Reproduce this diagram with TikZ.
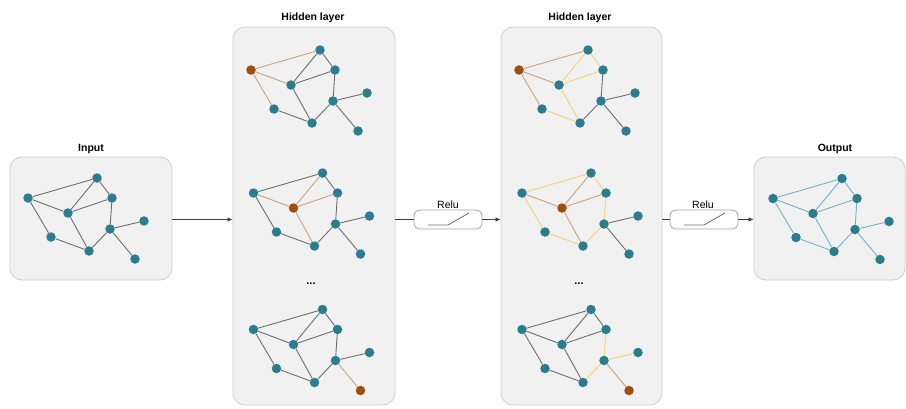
\documentclass[tikz,border=0pt]{standalone}
\usepackage{fontspec}
\setmainfont{Liberation Sans}
\usetikzlibrary{arrows.meta,calc}
\definecolor{tealn}{HTML}{2B7C8F}
\definecolor{hotc}{HTML}{9E4E10}
\definecolor{tanc}{HTML}{C9A27E}
\definecolor{yelc}{HTML}{F2D574}
\definecolor{grayc}{HTML}{6E6E6E}
\definecolor{outc}{HTML}{72B3C2}
\definecolor{panelf}{HTML}{F1F1F1}
\definecolor{paneld}{HTML}{CFCFCF}
\tikzset{
  vtx/.style={circle,fill=tealn,draw=none,inner sep=0pt,minimum size=9.5pt},
  eg/.style={draw=grayc,line width=0.9pt},
  et/.style={draw=tanc,line width=0.9pt},
  ey/.style={draw=yelc,line width=0.9pt},
  eo/.style={draw=outc,line width=0.9pt},
  panel/.style={draw=paneld,fill=panelf,line width=0.8pt,rounded corners=12pt,inner sep=0pt},
  ttl/.style={font=\fontsize{10.5}{12}\selectfont\bfseries,inner sep=0pt},
  relubox/.style={draw=paneld!80!black,fill=white,line width=0.8pt,rounded corners=6pt,minimum width=68pt,minimum height=19pt,inner sep=0pt},
  relut/.style={font=\fontsize{10.5}{12}\selectfont,inner sep=0pt},
  relus/.style={draw=grayc,line width=0.8pt},
  arr/.style={draw=black!75,line width=0.7pt,-{Latex[length=5pt,width=4.5pt]}},
  lnk/.style={draw=black!75,line width=0.7pt},
  dotst/.style={font=\fontsize{11}{12}\selectfont\bfseries,inner sep=0pt}
}
\newcommand\gnet[4]{%
  \foreach \n/\xx/\yy in {A/28/198,B/97/178,C/112/198,D/68/213,E/144/221,F/110/229,G/51/237,H/89/251,I/135/259}{%
    \edef\tmpa{\n}\edef\tmpb{#4}%
    \ifx\tmpa\tmpb
      \node[vtx,fill=hotc] (#1\n) at ({\xx+#2},{\yy+#3}) {};
    \else
      \node[vtx] (#1\n) at ({\xx+#2},{\yy+#3}) {};
    \fi
  }}
\newcommand\gedges[2]{%
  \foreach \u/\v/\s in {#2}{\draw[\s] (#1\u) -- (#1\v);}}
\begin{document}
\begin{tikzpicture}[x=1pt,y=-1pt]
\useasboundingbox (0,0) rectangle (906,408);
% panels
\node[panel,minimum width=162pt,minimum height=123pt] (pin) at (91,218.5) {};
\node[panel,minimum width=162pt,minimum height=378pt] (ph1) at (314,216) {};
\node[panel,minimum width=161pt,minimum height=378pt] (ph2) at (581.5,216) {};
\node[panel,minimum width=151pt,minimum height=123pt] (pout) at (829.5,218.5) {};
% titles
\node[ttl] (tin) at (91,149) {Input};
\node[ttl] (th1) at (313,18) {Hidden layer};
\node[ttl] (th2) at (580,18) {Hidden layer};
\node[ttl] (tout) at (835,149) {Output};
% dots
\node[dotst] (d1) at (311,284) {...};
\node[dotst] (d2) at (579,284) {...};
% relu boxes
\node[relubox] (r1) at (448,219.5) {};
\node[relut] (r1l) at (448,205) {Relu};
\node[relubox] (r2) at (704,219.5) {};
\node[relut] (r2l) at (703,205) {Relu};
\draw[relus] ($(r1.center)+(-20,5.5)$) -- ($(r1.center)+(0,5.5)$) -- ($(r1.center)+(21,-6.5)$);
\draw[relus] ($(r2.center)+(-20,5.5)$) -- ($(r2.center)+(0,5.5)$) -- ($(r2.center)+(21,-6.5)$);
% connectors
\draw[arr] (pin.east |- r1.west) -- (ph1.west |- r1.west);
\draw[lnk] (ph1.east |- r1.west) -- (r1.west);
\draw[arr] (r1.east) -- (ph2.west |- r1.east);
\draw[lnk] (ph2.east |- r2.west) -- (r2.west);
\draw[arr] (r2.east) -- (pout.west |- r2.east);
% graphs
\gnet{i}{0}{0}{Z}
\gedges{i}{A/B/eg,A/D/eg,A/G/eg,B/D/eg,B/C/eg,C/D/eg,C/F/eg,D/H/eg,G/H/eg,H/F/eg,F/E/eg,F/I/eg}
\gnet{a}{223}{-128}{A}
\gedges{a}{A/B/et,A/D/et,A/G/et,B/D/eg,B/C/eg,C/D/eg,C/F/eg,D/H/eg,G/H/eg,H/F/eg,F/E/eg,F/I/eg}
\gnet{b}{225.5}{-5}{D}
\gedges{b}{A/B/eg,A/D/et,A/G/eg,B/D/et,B/C/eg,C/D/et,C/F/eg,D/H/et,G/H/eg,H/F/eg,F/E/eg,F/I/eg}
\gnet{c}{225.5}{131.5}{I}
\gedges{c}{A/B/eg,A/D/eg,A/G/eg,B/D/eg,B/C/eg,C/D/eg,C/F/eg,D/H/eg,G/H/eg,H/F/eg,F/E/eg,F/I/et}
\gnet{d}{491}{-128}{A}
\gedges{d}{A/B/et,A/D/et,A/G/et,B/D/ey,B/C/ey,C/D/ey,C/F/eg,D/H/ey,G/H/ey,H/F/eg,F/E/eg,F/I/eg}
\gnet{e}{494}{-5}{D}
\gedges{e}{A/B/ey,A/D/et,A/G/ey,B/D/et,B/C/ey,C/D/et,C/F/ey,D/H/et,G/H/ey,H/F/ey,F/E/eg,F/I/eg}
\gnet{f}{494}{131.5}{I}
\gedges{f}{A/B/eg,A/D/eg,A/G/eg,B/D/eg,B/C/eg,C/D/eg,C/F/ey,D/H/eg,G/H/eg,H/F/ey,F/E/ey,F/I/et}
\gnet{o}{745}{0.5}{Z}
\gedges{o}{A/B/eo,A/D/eo,A/G/eo,B/D/eo,B/C/eo,C/D/eo,C/F/eo,D/H/eo,G/H/eo,H/F/eo,F/E/eo,F/I/eo}
\end{tikzpicture}
\end{document}
